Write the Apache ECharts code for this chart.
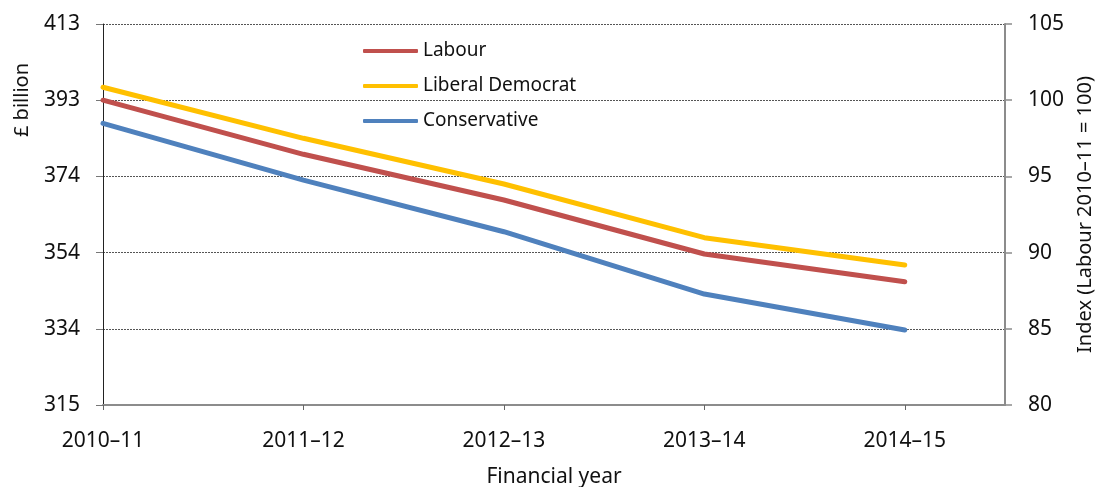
<!DOCTYPE html>
<html>
<head>
<meta charset="utf-8">
<script src="https://cdn.jsdelivr.net/npm/echarts@6/dist/echarts.min.js"></script>
<style>
html,body{margin:0;padding:0;background:#fff;}
#chart{width:1101px;height:487px;}
</style>
</head>
<body>
<div id="chart"></div>
<script>
const categories = ['2010–11', '2011–12', '2012–13', '2013–14', '2014–15'];
const labour = [100.0, 96.45, 93.45, 89.91, 88.09];
const libDem = [100.85, 97.5, 94.5, 90.98, 89.19];
const conservative = [98.48, 94.76, 91.37, 87.28, 84.92];
const indexTicks = [80, 85, 90, 95, 100, 105];
const billionLabels = ['315', '334', '354', '374', '393', '413'];

const FONT = 'Noto Sans';
const chart = echarts.init(document.getElementById('chart'), null, {renderer: 'canvas'});

function pts(arr) { return arr.map((v, i) => [i, v]); }

const lineSeries = (name, data, color) => ({
  name, type: 'line', data: pts(data), yAxisIndex: 1,
  symbol: 'none', lineStyle: {color, width: 5, cap: 'round'},
  itemStyle: {color}, emphasis: {disabled: true}, z: 3
});

chart.setOption({
  animation: false,
  grid: {left: 103, right: 96, top: 24, bottom: 82, containLabel: false, outerBoundsMode: 'none'},
  legend: {
    orient: 'vertical', left: 358, top: 36,
    icon: 'roundRect', itemWidth: 55, itemHeight: 4, itemGap: 15,
    textStyle: {fontFamily: FONT, fontSize: 19, color: '#111', lineHeight: 20, padding: [0, 0, 0, 0]},
    itemStyle: {borderWidth: 0},
    data: ['Labour', 'Liberal Democrat', 'Conservative']
  },
  xAxis: {
    type: 'value', min: 0, max: 4.5, interval: 1,
    name: 'Financial year', nameLocation: 'middle', nameGap: 62,
    nameTextStyle: {fontFamily: FONT, fontSize: 21, color: '#111'},
    axisLine: {show: true, lineStyle: {color: '#8c8c8c', width: 2}},
    axisTick: {show: true, length: 5, customValues: [0, 1, 2, 3, 4], lineStyle: {color: '#666', width: 1}},
    axisLabel: {
      customValues: [0, 1, 2, 3, 4], margin: 26,
      fontFamily: FONT, fontSize: 21, color: '#111',
      formatter: v => categories[v] || ''
    },
    splitLine: {show: false}
  },
  yAxis: [
    {
      type: 'value', min: 80, max: 105, interval: 5, position: 'left',
      axisLine: {show: true, lineStyle: {color: '#222', width: 1}},
      axisTick: {show: true, length: 7, lineStyle: {color: '#777'}},
      axisLabel: {
        margin: 23, fontFamily: FONT, fontSize: 21, color: '#111',
        formatter: v => billionLabels[indexTicks.indexOf(Math.round(v))]
      },
      splitLine: {show: true, lineStyle: {color: '#555', type: [2, 1], width: 1}}
    },
    {
      type: 'value', min: 80, max: 105, interval: 5, position: 'right',
      name: 'Index (Labour 2010–11 = 100)', nameLocation: 'middle', nameGap: 70, nameRotate: 90,
      nameTextStyle: {fontFamily: FONT, fontSize: 20, color: '#111'},
      axisLine: {show: true, lineStyle: {color: '#8c8c8c', width: 2}},
      axisTick: {show: true, length: 7, lineStyle: {color: '#8c8c8c', width: 1.5}},
      axisLabel: {margin: 23, fontFamily: FONT, fontSize: 21, color: '#111'},
      splitLine: {show: false}
    }
  ],
  graphic: [{
    type: 'text', x: 22, y: 100, rotation: Math.PI / 2,
    style: {text: '£ billion', fontFamily: FONT, fontSize: 20, fill: '#111', align: 'center', verticalAlign: 'middle'}
  }],
  series: [
    lineSeries('Labour', labour, '#C0504D'),
    lineSeries('Liberal Democrat', libDem, '#FFC000'),
    lineSeries('Conservative', conservative, '#4F81BD')
  ]
});
</script>
</body>
</html>
